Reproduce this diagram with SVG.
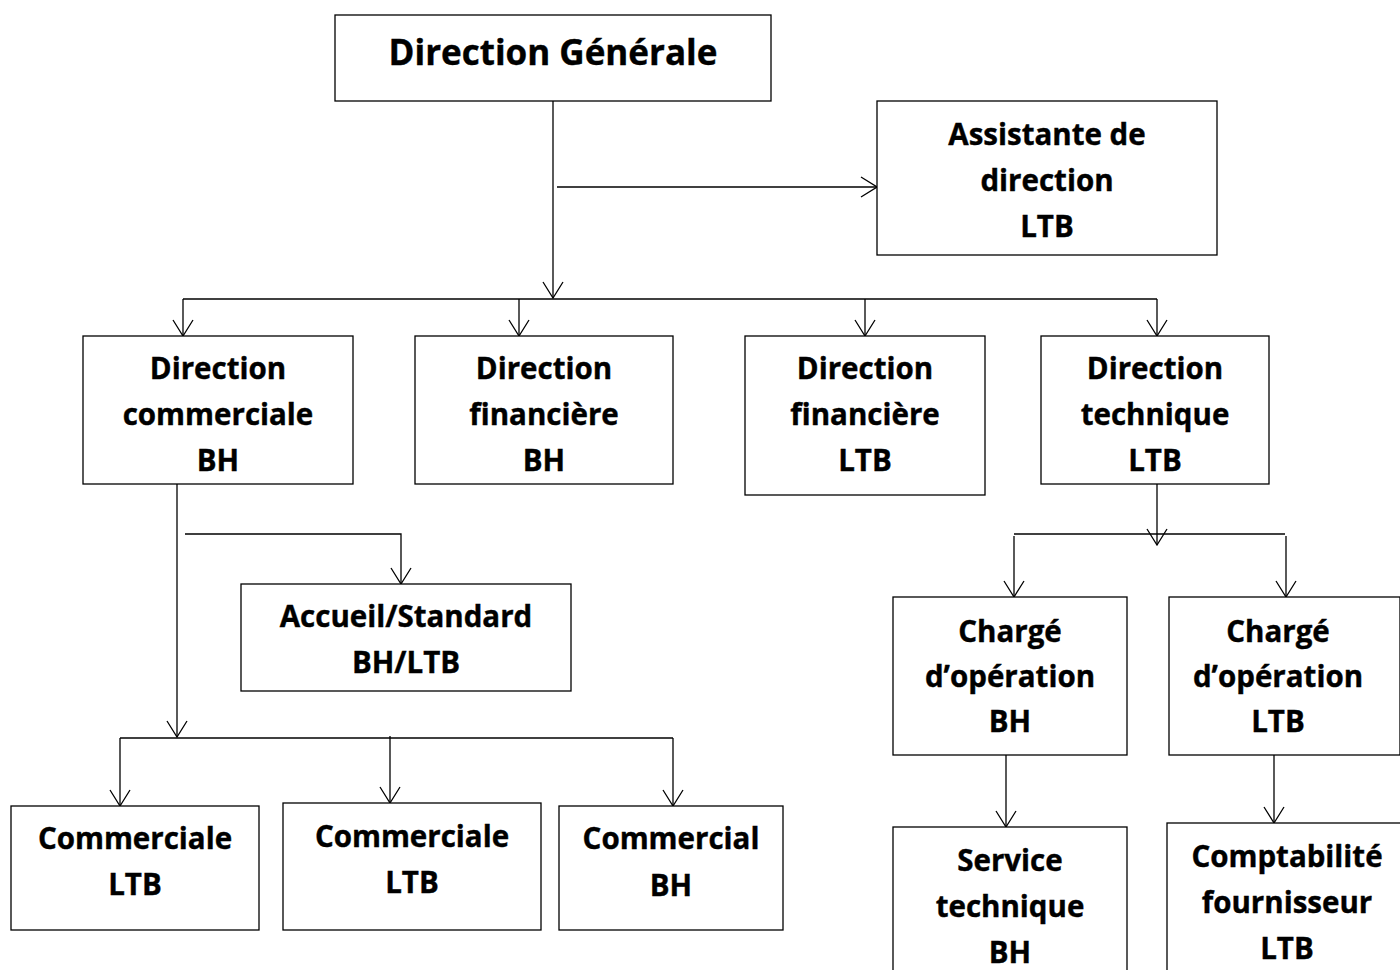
<svg xmlns="http://www.w3.org/2000/svg" width="1400" height="970" viewBox="0 0 1400 970">
<style>
.box{fill:#fff;stroke:#000;stroke-width:1.3}
.t{font-family:"Open Sans","Noto Sans","Liberation Sans",sans-serif;font-weight:bold;font-size:29.5px;text-anchor:middle;fill:#000;stroke:#000;stroke-width:0.4}
.title{font-size:35px}
.c{fill:none;stroke:#000;stroke-width:1.3}
</style>
<defs>
<marker id="arr" markerUnits="userSpaceOnUse" markerWidth="18" markerHeight="22" viewBox="0 0 18 22" refX="17" refY="11" orient="auto">
<path d="M1,1 L17,11 L1,21" fill="none" stroke="#000" stroke-width="1.3"/>
</marker>
</defs>
<rect width="1400" height="970" fill="#fff"/>
<g id="connectors">
<path class="c" d="M553,101 V298" marker-end="url(#arr)"/>
<path class="c" d="M557,187 H877" marker-end="url(#arr)"/>
<path class="c" d="M183,299 H1157"/>
<path class="c" d="M183,299 V336" marker-end="url(#arr)"/>
<path class="c" d="M519,299 V336" marker-end="url(#arr)"/>
<path class="c" d="M865,299 V336" marker-end="url(#arr)"/>
<path class="c" d="M1157,299 V336" marker-end="url(#arr)"/>
<path class="c" d="M177,484 V737" marker-end="url(#arr)"/>
<path class="c" d="M185,534 H401 V584" marker-end="url(#arr)"/>
<path class="c" d="M120,738 H673"/>
<path class="c" d="M120,738 V806" marker-end="url(#arr)"/>
<path class="c" d="M390,736 V803" marker-end="url(#arr)"/>
<path class="c" d="M673,738 V806" marker-end="url(#arr)"/>
<path class="c" d="M1157,484 V545" marker-end="url(#arr)"/>
<path class="c" d="M1014,534 H1285"/>
<path class="c" d="M1014,536 V597" marker-end="url(#arr)"/>
<path class="c" d="M1286,536 V597" marker-end="url(#arr)"/>
<path class="c" d="M1006,755 V827" marker-end="url(#arr)"/>
<path class="c" d="M1274,755 V823" marker-end="url(#arr)"/>
</g>
<g id="direction-generale">
<rect class="box" x="335" y="15" width="436" height="86"/>
<text class="t title" x="553" y="65">Direction Générale</text>
</g>
<g id="assistante">
<rect class="box" x="877" y="101" width="340" height="154"/>
<text class="t" x="1047" y="145">Assistante de</text>
<text class="t" x="1047" y="191">direction</text>
<text class="t" x="1047" y="237">LTB</text>
</g>
<g id="dir-commerciale">
<rect class="box" x="83" y="336" width="270" height="148"/>
<text class="t" x="218" y="379">Direction</text>
<text class="t" x="218" y="425">commerciale</text>
<text class="t" x="218" y="471">BH</text>
</g>
<g id="dir-financiere-bh">
<rect class="box" x="415" y="336" width="258" height="148"/>
<text class="t" x="544" y="379">Direction</text>
<text class="t" x="544" y="425">financière</text>
<text class="t" x="544" y="471">BH</text>
</g>
<g id="dir-financiere-ltb">
<rect class="box" x="745" y="336" width="240" height="159"/>
<text class="t" x="865" y="379">Direction</text>
<text class="t" x="865" y="425">financière</text>
<text class="t" x="865" y="471">LTB</text>
</g>
<g id="dir-technique">
<rect class="box" x="1041" y="336" width="228" height="148"/>
<text class="t" x="1155" y="379">Direction</text>
<text class="t" x="1155" y="425">technique</text>
<text class="t" x="1155" y="471">LTB</text>
</g>
<g id="accueil">
<rect class="box" x="241" y="584" width="330" height="107"/>
<text class="t" x="406" y="627">Accueil/Standard</text>
<text class="t" x="406" y="673">BH/LTB</text>
</g>
<g id="commerciale-ltb-1">
<rect class="box" x="11" y="806" width="248" height="124"/>
<text class="t" x="135" y="849">Commerciale</text>
<text class="t" x="135" y="895">LTB</text>
</g>
<g id="commerciale-ltb-2">
<rect class="box" x="283" y="803" width="258" height="127"/>
<text class="t" x="412" y="847">Commerciale</text>
<text class="t" x="412" y="893">LTB</text>
</g>
<g id="commercial-bh">
<rect class="box" x="559" y="806" width="224" height="124"/>
<text class="t" x="671" y="849">Commercial</text>
<text class="t" x="671" y="896">BH</text>
</g>
<g id="charge-bh">
<rect class="box" x="893" y="597" width="234" height="158"/>
<text class="t" x="1010" y="642">Chargé</text>
<text class="t" x="1010" y="687">d’opération</text>
<text class="t" x="1010" y="732">BH</text>
</g>
<g id="charge-ltb">
<rect class="box" x="1169" y="597" width="231" height="158"/>
<text class="t" x="1278" y="642">Chargé</text>
<text class="t" x="1278" y="687">d’opération</text>
<text class="t" x="1278" y="732">LTB</text>
</g>
<g id="service-technique">
<rect class="box" x="893" y="827" width="234" height="160"/>
<text class="t" x="1010" y="871">Service</text>
<text class="t" x="1010" y="917">technique</text>
<text class="t" x="1010" y="963">BH</text>
</g>
<g id="comptabilite">
<rect class="box" x="1167" y="823" width="240" height="160"/>
<text class="t" x="1287" y="867">Comptabilité</text>
<text class="t" x="1287" y="913">fournisseur</text>
<text class="t" x="1287" y="959">LTB</text>
</g>
</svg>
